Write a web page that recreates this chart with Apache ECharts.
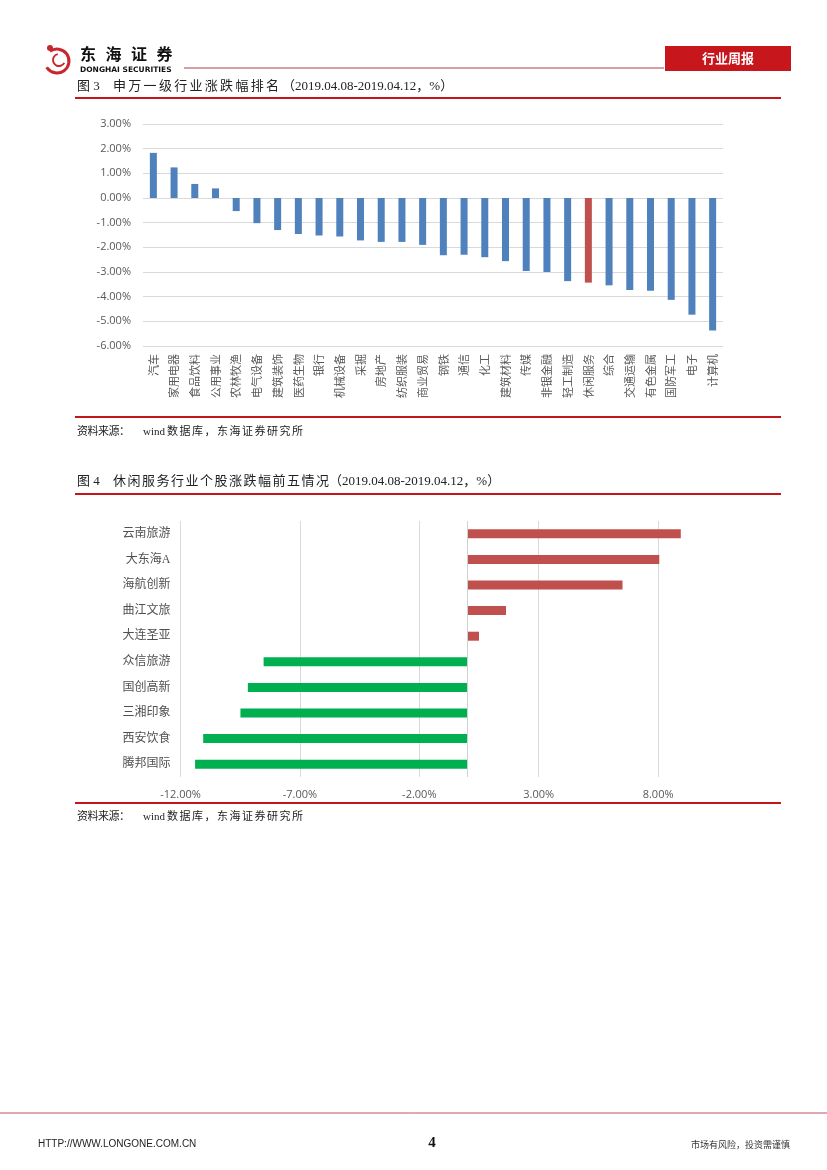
<!DOCTYPE html>
<html>
<head>
<meta charset="utf-8">
<script src="https://cdn.jsdelivr.net/npm/echarts@6/dist/echarts.min.js"></script>
<style>
html,body{margin:0;padding:0;background:#fff;}
#main{width:827px;height:1170px;}
</style>
</head>
<body>
<div id="main"></div>
<script>
// ---- Figure 3 data: 申万一级行业涨跌幅 (%) ----
var industries = ['汽车','家用电器','食品饮料','公用事业','农林牧渔','电气设备','建筑装饰','医药生物','银行','机械设备','采掘','房地产','纺织服装','商业贸易','钢铁','通信','化工','建筑材料','传媒','非银金融','轻工制造','休闲服务','综合','交通运输','有色金属','国防军工','电子','计算机'];
var industryChanges = [1.83,1.24,0.57,0.39,-0.53,-1.02,-1.30,-1.46,-1.52,-1.56,-1.72,-1.78,-1.78,-1.90,-2.32,-2.30,-2.40,-2.56,-2.96,-3.00,-3.37,-3.43,-3.54,-3.73,-3.76,-4.13,-4.73,-5.37];
var highlightIndustry = '休闲服务';
var fig3Ticks = {min: -6, max: 3, interval: 1};

// ---- Figure 4 data: 休闲服务行业个股涨跌幅前五 (%) ----
var stocks = ['云南旅游','大东海A','海航创新','曲江文旅','大连圣亚','众信旅游','国创高新','三湘印象','西安饮食','腾邦国际'];
var stockChanges = [8.95,8.05,6.51,1.63,0.50,-8.52,-9.18,-9.49,-11.05,-11.39];
var fig4Ticks = {min: -12, max: 13, interval: 5};

var SERIF = '"Liberation Serif","Noto Sans CJK SC",serif';
var SANS = '"Noto Sans CJK SC","Open Sans",sans-serif';
var RED = '#c0161c';

var chart = echarts.init(document.getElementById('main'), null, {renderer: 'canvas'});

function txt(x, y, s, opt) {
  opt = opt || {};
  return {
    type: 'text', x: x, y: y, silent: true,
    style: {
      text: s, fill: opt.fill || '#222', font: opt.font || ('12px ' + SERIF),
      textAlign: opt.align || 'left', textVerticalAlign: 'middle', verticalAlign: 'middle'
    }
  };
}
// text with fixed per-character step (letter-spaced CJK)
function spaced(x, y, s, step, opt) {
  var out = [];
  for (var i = 0; i < s.length; i++) out.push(txt(x + i * step, y, s.charAt(i), opt));
  return out;
}
function line(x1, y1, x2, y2, color, w) {
  return {type: 'line', silent: true, shape: {x1: x1, y1: y1, x2: x2, y2: y2}, style: {stroke: color, lineWidth: w}};
}

var T13 = {font: '13px ' + SERIF};
var S11 = {font: '11px ' + SERIF};

var graphics = [
  // logo swirl
  {type: 'arc', silent: true, shape: {cx: 57, cy: 61, r: 12, startAngle: -2.2, endAngle: 2.6}, style: {stroke: '#c8282d', lineWidth: 3, fill: null}},
  {type: 'arc', silent: true, shape: {cx: 59, cy: 60, r: 6, startAngle: 0.5, endAngle: 4.5}, style: {stroke: '#c8282d', lineWidth: 2, fill: null}},
  {type: 'circle', silent: true, shape: {cx: 50, cy: 48, r: 3}, style: {fill: '#c8282d'}},
  txt(80, 70, 'DONGHAI SECURITIES', {font: 'bold 7.5px "DejaVu Sans",sans-serif', fill: '#111'}),
  line(184, 68, 664, 68, '#b0404a', 1.2),
  {type: 'rect', silent: true, shape: {x: 665, y: 46, width: 126, height: 25}, style: {fill: '#c8161d'}},
  txt(728, 58.5, '行业周报', {font: 'bold 13px ' + SANS, fill: '#fff', align: 'center'}),

  // Figure 3 rules
  line(75, 98, 781, 98, RED, 2.2),
  line(75, 417, 781, 417, RED, 2.2),

  // Figure 4 rules
  line(75, 494, 781, 494, RED, 2.2),
  line(75, 803, 781, 803, RED, 2.2),

  // footer
  line(0, 1113, 827, 1113, '#c05060', 1),
  txt(38, 1144, 'HTTP://WWW.LONGONE.COM.CN', {font: '10px "Liberation Sans Narrow","Liberation Sans",sans-serif', fill: '#222'}),
  txt(432, 1143, '4', {font: 'bold 15px ' + SERIF, fill: '#111', align: 'center'}),
  txt(790, 1145, '市场有风险，投资需谨慎', {font: '9px ' + SANS, fill: '#333', align: 'right'})
];
graphics = graphics.concat(
  spaced(80, 54, '东海证券', 25.5, {font: 'bold 16px ' + SANS, fill: '#111'}),
  [txt(77, 87, '图 3', T13)],
  spaced(113, 87, '申万一级行业涨跌幅排名', 15.3, T13),
  [txt(282, 87, '（2019.04.08-2019.04.12，%）', T13)],
  spaced(77, 432, '资料来源：', 10.5, S11),
  [txt(143, 432, 'wind', S11)],
  spaced(167, 432, '数据库，东海证券研究所', 12.5, S11),
  [txt(77, 482, '图 4', T13)],
  spaced(113, 482, '休闲服务行业个股涨跌幅前五情况', 14.5, T13),
  [txt(329, 482, '（2019.04.08-2019.04.12，%）', T13)],
  spaced(77, 817, '资料来源：', 10.5, S11),
  [txt(143, 817, 'wind', S11)],
  spaced(167, 817, '数据库，东海证券研究所', 12.5, S11)
);

var splitColors4 = [];
for (var v = fig4Ticks.min; v <= fig4Ticks.max; v += fig4Ticks.interval) {
  splitColors4.push(v + fig4Ticks.interval > fig4Ticks.max ? 'rgba(0,0,0,0)' : '#d9d9d9');
}

var option = {
  backgroundColor: '#fff',
  animation: false,
  graphic: graphics,
  grid: [
    {left: 143, right: 104, top: 124, bottom: 824, containLabel: false},
    {left: 180.5, right: 49.5, top: 521, bottom: 393, containLabel: false}
  ],
  xAxis: [
    {
      gridIndex: 0, type: 'category', data: industries,
      axisLine: {show: false}, axisTick: {show: false},
      axisLabel: {rotate: 90, interval: 0, fontSize: 11, color: '#595959', fontFamily: SANS, margin: 8}
    },
    {
      gridIndex: 1, type: 'value', min: fig4Ticks.min, max: fig4Ticks.max, interval: fig4Ticks.interval,
      axisLine: {show: false}, axisTick: {show: false},
      splitLine: {show: true, lineStyle: {color: splitColors4, width: 1}},
      axisLabel: {showMaxLabel: false, fontSize: 11, color: '#595959', fontFamily: '"Open Sans",sans-serif', margin: 12,
        formatter: function (v) { return v.toFixed(2) + '%'; }}
    }
  ],
  yAxis: [
    {
      gridIndex: 0, type: 'value', min: fig3Ticks.min, max: fig3Ticks.max, interval: fig3Ticks.interval,
      axisLine: {show: false}, axisTick: {show: false},
      splitLine: {lineStyle: {color: '#d9d9d9', width: 1}},
      axisLabel: {fontSize: 11, color: '#595959', fontFamily: '"Open Sans",sans-serif', margin: 12,
        formatter: function (v) { return v.toFixed(2) + '%'; }}
    },
    {
      gridIndex: 1, type: 'category', data: stocks, inverse: true,
      axisLine: {show: false, onZero: false}, axisTick: {show: false},
      axisLabel: {fontSize: 12, color: '#505050', fontFamily: SERIF, margin: 10}
    }
  ],
  series: [
    {
      type: 'bar', xAxisIndex: 0, yAxisIndex: 0, barWidth: 7,
      data: industryChanges,
      itemStyle: {color: function (p) { return industries[p.dataIndex] === highlightIndustry ? '#c0504d' : '#4f81bd'; }}
    },
    {
      type: 'bar', xAxisIndex: 1, yAxisIndex: 1, barWidth: 9,
      data: stockChanges,
      itemStyle: {color: function (p) { return p.value >= 0 ? '#c0504d' : '#00b050'; }},
      markLine: {
        silent: true, symbol: 'none', label: {show: false},
        lineStyle: {color: '#d0d0d0', width: 1, type: 'solid'},
        data: [{xAxis: 0}]
      }
    }
  ]
};
chart.setOption(option);
</script>
</body>
</html>
